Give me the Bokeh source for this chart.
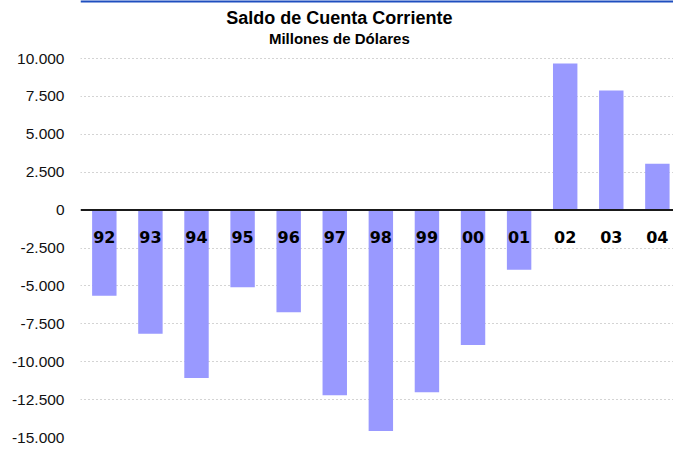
from bokeh.plotting import figure
from bokeh.models import ColumnDataSource, Range1d, FixedTicker, Span, CustomJSTickFormatter
from bokeh.core.properties import value
from bokeh.embed import file_html
from bokeh.resources import INLINE

years = ["92", "93", "94", "95", "96", "97", "98", "99", "00", "01", "02", "03", "04"]
saldo = [-5650, -8150, -11070, -5090, -6740, -12210, -14570, -12020, -8900, -3940, 9670, 7890, 3050]
y_ticks = [-15000, -12500, -10000, -7500, -5000, -2500, 0, 2500, 5000, 7500, 10000]
title_text = "Saldo de Cuenta Corriente"
subtitle_text = "Millones de Dólares"

Y_TOP = 13826
xs = list(range(len(years)))
src = ColumnDataSource(dict(x=xs, top=saldo, label=years, ly=[-1780] * len(years)))

p = figure(width=673, height=447, output_backend="svg", toolbar_location=None,
           x_range=Range1d(-0.517, 12.35), y_range=Range1d(-15000, Y_TOP),
           min_border_top=0, min_border_bottom=10, min_border_right=0, min_border_left=80)
p.outline_line_color = None
p.background_fill_color = "white"
p.border_fill_color = "white"
p.xaxis.visible = False
p.xgrid.visible = False

yax = p.yaxis[0]
yax.ticker = FixedTicker(ticks=y_ticks)
yax.formatter = CustomJSTickFormatter(code="""
var s = Math.abs(tick).toFixed(0).replace(/\\B(?=(\\d{3})+(?!\\d))/g, '.');
return (tick < 0 ? '-' : '') + s;
""")
yax.axis_line_color = None
yax.major_tick_line_color = None
yax.minor_tick_line_color = None
yax.major_tick_out = 0
yax.major_tick_in = 0
yax.major_label_standoff = 16
yax.major_label_text_font = "Liberation Sans"
yax.major_label_text_font_size = "15.5px"
yax.major_label_text_color = "#111111"

p.ygrid.ticker = FixedTicker(ticks=[t for t in y_ticks if t not in (0, -15000)])
p.ygrid.grid_line_color = "#a8a8a8"
p.ygrid.grid_line_dash = "1 3"
p.ygrid.grid_line_width = 1

p.vbar(x="x", top="top", bottom=0, width=0.53, source=src,
       fill_color="#9999ff", line_color=None)

p.add_layout(Span(location=0, dimension="width", line_color="#1a1a1a", line_width=2))

p.text(x="x", y="ly", text="label", source=src, text_align="center", text_baseline="middle",
       text_font=value("DejaVu Sans"), text_font_style="bold", text_font_size="16px",
       text_color="#000000")

p.text(x=[5.10], y=[12700], text=[title_text], text_align="center", text_baseline="middle",
       text_font=value("Liberation Sans"), text_font_style="bold", text_font_size="18px",
       text_color="#000000")
p.text(x=[5.10], y=[11320], text=[subtitle_text], text_align="center", text_baseline="middle",
       text_font=value("Liberation Sans"), text_font_style="bold", text_font_size="15px",
       text_color="#000000")

p.add_layout(Span(location=Y_TOP, dimension="width", line_color="#1f4fbf", line_width=4))

open("out.html", "w").write(file_html(p, INLINE))
